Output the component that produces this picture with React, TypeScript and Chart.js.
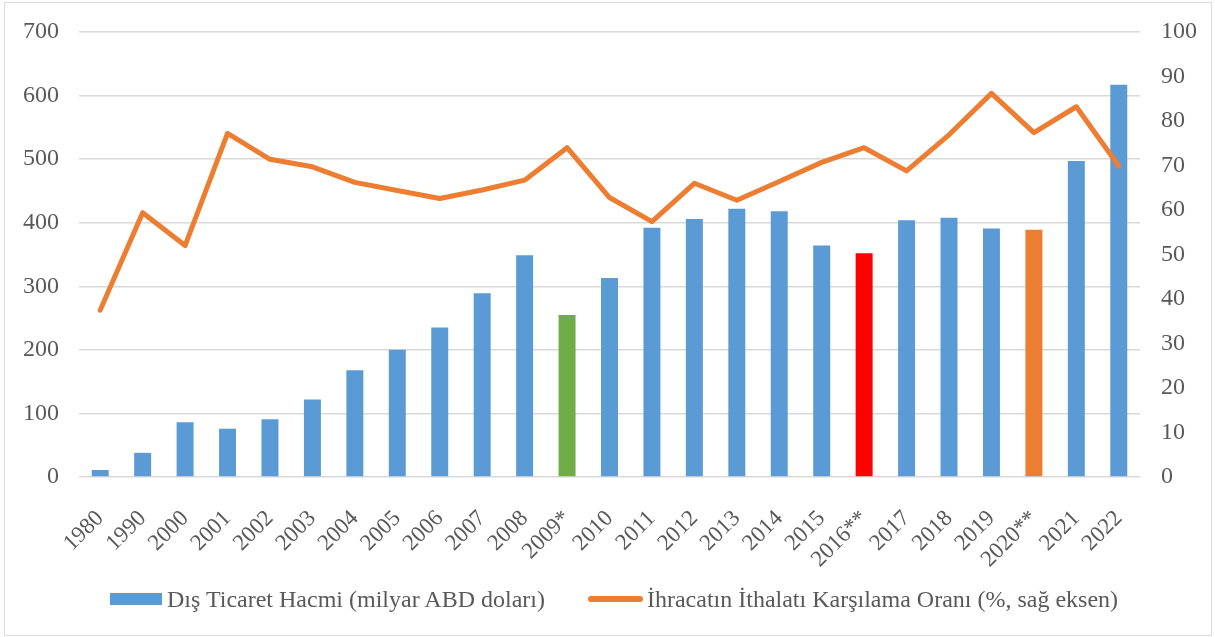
import React, { useEffect, useRef } from "react";
import { Chart, registerables } from "chart.js";

Chart.register(...registerables);

const categories = ["1980", "1990", "2000", "2001", "2002", "2003", "2004", "2005", "2006", "2007", "2008", "2009*", "2010", "2011", "2012", "2013", "2014", "2015", "2016**", "2017", "2018", "2019", "2020**", "2021", "2022"];
const tradeVolume = [11, 38, 86, 76, 91, 122, 168, 200, 235, 289, 349, 255, 313, 392, 406, 422, 418, 364, 352, 404, 408, 391, 389, 497, 617];
const coverageRatio = [37.5, 59.4, 52.0, 77.2, 71.4, 69.7, 66.2, 64.4, 62.6, 64.5, 66.7, 74.0, 62.8, 57.4, 66.0, 62.2, 66.4, 70.7, 74.0, 68.8, 76.9, 86.2, 77.4, 83.2, 69.9];
const leftTicks = [0, 100, 200, 300, 400, 500, 600, 700];
const rightTicks = [0, 10, 20, 30, 40, 50, 60, 70, 80, 90, 100];

const barLabel = "Dış Ticaret Hacmi (milyar ABD doları)";
const lineLabel = "İhracatın İthalatı Karşılama Oranı (%, sağ eksen)";

const BLUE = "#5B9BD5";
const ORANGE = "#ED7D31";
const GREEN = "#70AD47";
const RED = "#FF0000";

const barColors = categories.map((c) =>
  c === "2009*" ? GREEN : c === "2016**" ? RED : c === "2020**" ? ORANGE : BLUE
);

const FONT = "'Liberation Serif', 'Times New Roman', serif";

export default function App() {
  const ref = useRef<HTMLCanvasElement | null>(null);
  useEffect(() => {
    if (!ref.current) return;
    const chart = new Chart(ref.current, {
      data: {
        labels: categories,
        datasets: [
          {
            type: "line",
            label: lineLabel,
            data: coverageRatio,
            yAxisID: "y1",
            borderColor: ORANGE,
            backgroundColor: ORANGE,
            borderWidth: 5,
            pointRadius: 0,
            tension: 0,
            borderJoinStyle: "round",
            borderCapStyle: "round",
            order: 0,
          } as any,
          {
            type: "bar",
            label: barLabel,
            data: tradeVolume,
            yAxisID: "y",
            backgroundColor: barColors,
            barPercentage: 0.4,
            categoryPercentage: 1,
            order: 1,
          } as any,
        ],
      },
      options: {
        responsive: false,
        animation: false,
        layout: { padding: { top: 32, left: 0, right: 0, bottom: 0 } },
        plugins: { legend: { display: false }, tooltip: { enabled: false } },
        scales: {
          x: {
            grid: { display: false },
            border: { display: false },
            ticks: {
              color: "#595959",
              font: { family: FONT, size: 23 },
              maxRotation: 45,
              minRotation: 45,
              autoSkip: false,
              padding: 20,
            },
            afterFit: (s: any) => { s.height = 160; },
          },
          y: {
            position: "left",
            min: 0,
            max: 700,
            afterBuildTicks: (s: any) => { s.ticks = leftTicks.map((v) => ({ value: v })); },
            grid: { color: "#D9D9D9", lineWidth: 1.5, drawTicks: false },
            border: { display: false },
            ticks: { color: "#595959", font: { family: FONT, size: 24 }, padding: 20 },
            afterFit: (s: any) => { s.width = 79; s.paddingTop = 0; s.paddingBottom = 0; },
          },
          y1: {
            position: "right",
            min: 0,
            max: 100,
            afterBuildTicks: (s: any) => { s.ticks = rightTicks.map((v) => ({ value: v })); },
            grid: { display: false, drawTicks: false },
            border: { display: false },
            ticks: { color: "#595959", font: { family: FONT, size: 24 }, padding: 21 },
            afterFit: (s: any) => { s.width = 75; s.paddingTop = 0; s.paddingBottom = 0; },
          },
        },
      },
    });
    return () => chart.destroy();
  }, []);

  return (
    <div style={{ position: "absolute", left: 0, top: 0, width: 1215, height: 637, background: "#fff" }}>
      <div style={{ position: "absolute", left: 4, top: 2, width: 1206, height: 632, border: "1.5px solid #D9D9D9" }} />
      <canvas ref={ref} width={1215} height={637} style={{ position: "absolute", left: 0, top: 0 }} />
      <div
        style={{
          position: "absolute",
          left: 110,
          top: 582,
          height: 34,
          display: "flex",
          alignItems: "center",
          fontFamily: FONT,
          fontSize: 24,
          color: "#595959",
          whiteSpace: "nowrap",
        }}
      >
        <span style={{ display: "inline-block", width: 52, height: 12, background: BLUE, marginRight: 5 }} />
        <span>{barLabel}</span>
        <span style={{ display: "inline-block", width: 55, height: 5.5, borderRadius: 3, background: ORANGE, marginLeft: 43, marginRight: 4 }} />
        <span>{lineLabel}</span>
      </div>
    </div>
  );
}
